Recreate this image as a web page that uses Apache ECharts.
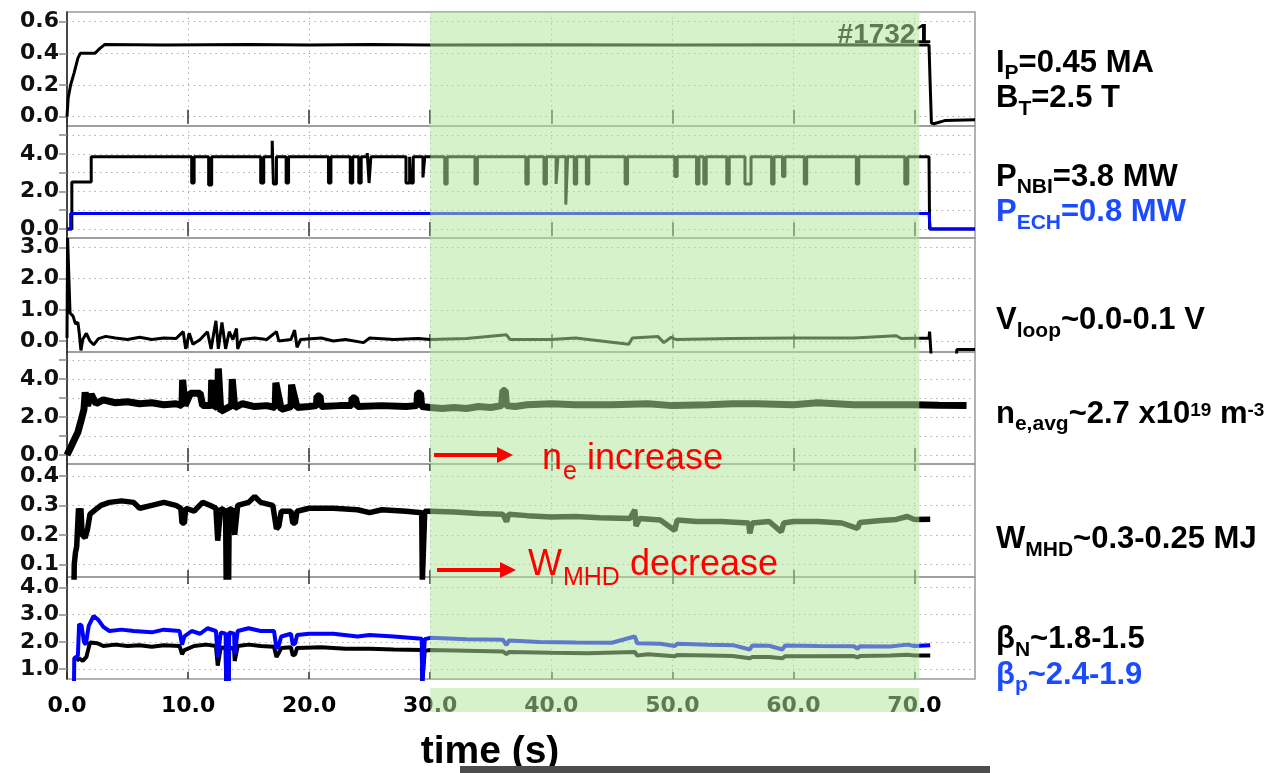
<!DOCTYPE html>
<html><head><meta charset="utf-8">
<script src="https://cdn.jsdelivr.net/npm/echarts@6/dist/echarts.min.js"></script>
<style>html,body{margin:0;padding:0;background:#fff}#c{width:1278px;height:773px}</style>
</head><body><div id="c"></div><script>
// ---------- data (time in s) ----------
const xTicks = [0,10,20,30,40,50,60,70];
const greenStart = 30, greenEnd = 70.4;
const yMins = [-0.059,-0.48,-0.35,-0.47,0.057,0.64];
const yMaxs = [0.661,5.49,3.30,5.42,0.44,4.38];
const yLabels = [[0,0.2,0.4,0.6],[0,2,4],[0,1,2,3],[0,2,4],[0.1,0.2,0.3,0.4],[1,2,3,4]];
const yGrids = [[0,0.2,0.4,0.6],[0,1,2,3,4,5],[0,1,2,3],[0,1,2,3,4,5],[0.1,0.2,0.3,0.4],[1,2,3,4]];

const ipData = [[0,0],[0.1,0.12],[0.3,0.2],[0.6,0.28],[0.9,0.37],[1.1,0.40],[2.3,0.40],[2.7,0.43],[3.1,0.455],[8,0.452],[15,0.455],[20,0.452],[25,0.455],[30,0.452],[40,0.454],[50,0.452],[60,0.454],[70,0.452],[71.2,0.452],[71.3,0.2],[71.4,-0.04],[71.6,-0.045],[72.5,-0.025],[75,-0.02]];

const pnbiData = [[0,0],[0.4,0],[0.4,2.5],[2.0,2.5],[2.0,3.85],
[10.3,3.85],[10.3,2.45],[10.5,2.45],[10.5,3.85],
[11.7,3.85],[11.7,2.35],[11.95,2.35],[11.95,3.85],
[16.0,3.85],[16.0,2.45],[16.25,2.45],[16.25,3.85],
[16.95,3.85],[16.95,4.7],[17.05,4.7],[17.05,2.4],[17.3,2.4],[17.3,3.85],
[18.1,3.85],[18.1,2.45],[18.3,2.45],[18.3,3.85],
[21.6,3.85],[21.6,2.45],[21.8,2.45],[21.8,3.85],
[23.4,3.85],[23.4,2.45],[23.6,2.45],[23.6,3.85],
[24.1,3.85],[24.1,2.45],[24.3,2.45],[24.3,3.85],
[24.8,3.85],[24.8,4.05],[24.95,4.05],[24.95,2.45],[25.1,2.45],[25.1,3.85],
[28.0,3.85],[28.0,2.45],[28.3,2.45],[28.3,3.85],[28.4,3.85],[28.4,2.45],[28.6,2.45],[28.6,3.85],
[29.4,3.85],[29.4,2.75],[29.55,2.75],[29.55,3.85],
[31.2,3.85],[31.2,2.4],[31.4,2.4],[31.4,3.85],
[33.7,3.85],[33.7,2.4],[33.9,2.4],[33.9,3.85],
[37.9,3.85],[37.9,2.4],[38.1,2.4],[38.1,3.85],
[39.4,3.85],[39.4,2.4],[39.6,2.4],[39.6,3.85],
[40.4,3.85],[40.4,2.4],[40.55,2.4],[40.55,3.85],
[41.2,3.85],[41.2,1.3],[41.35,1.3],[41.35,3.85],
[41.9,3.85],[41.9,2.4],[42.1,2.4],[42.1,3.85],
[42.9,3.85],[42.9,2.4],[43.1,2.4],[43.1,3.85],
[46.1,3.85],[46.1,2.4],[46.3,2.4],[46.3,3.85],
[50.2,3.85],[50.2,2.8],[50.4,2.8],[50.4,3.85],
[52.0,3.85],[52.0,2.4],[52.2,2.4],[52.2,3.85],
[52.6,3.85],[52.6,2.4],[52.8,2.4],[52.8,3.85],
[54.5,3.85],[54.5,2.4],[54.7,2.4],[54.7,3.85],
[56.0,3.85],[56.0,2.4],[56.5,2.4],[56.5,3.85],
[58.2,3.85],[58.2,2.4],[58.4,2.4],[58.4,3.85],
[59.1,3.85],[59.1,2.8],[59.3,2.8],[59.3,3.85],
[60.9,3.85],[60.9,2.4],[61.1,2.4],[61.1,3.85],
[65.2,3.85],[65.2,2.4],[65.4,2.4],[65.4,3.85],
[69.2,3.85],[69.2,2.4],[69.45,2.4],[69.45,3.85],
[71.2,3.85],[71.25,0],[75,0]];

const pechData = [[0,0],[0.3,0],[0.3,0.82],[20,0.83],[40,0.82],[60,0.83],[71.2,0.82],[71.3,0],[75,0]];

const vloopData = [[0,0.1],[0.05,3.3],[0.2,3.3],[0.25,0.9],[0.5,0.8],[0.7,0.55],[0.9,0.6],[1.0,0.3],[1.15,-0.3],[1.3,0.05],[1.6,0.25],[1.9,0.0],[2.2,-0.12],[2.6,0.08],[3.2,0.15],[4,0.1],[5,0.05],[6,0.12],[7,0.05],[8,0.1],[9,0.08],[9.6,0.3],[9.8,-0.25],[10.1,0.25],[10.4,-0.1],[11,0.05],[11.6,0.3],[11.9,-0.25],[12.3,0.65],[12.5,-0.25],[12.8,0.6],[13.1,-0.25],[13.4,0.3],[13.7,0.05],[14.0,0.4],[14.1,-0.25],[14.4,0.05],[15.5,0.1],[16.5,0.05],[17.3,0.3],[17.5,0.0],[18.5,0.05],[18.8,0.35],[19.0,-0.2],[19.3,0.05],[21,0.1],[22,0.0],[23,0.05],[24.5,-0.05],[25,0.1],[27,0.05],[29,0.08],[30,0.05],[33,0.08],[36.3,0.2],[36.6,0.05],[40,0.05],[42,0.1],[46.4,-0.1],[46.7,0.1],[48.8,0.15],[49.3,-0.05],[49.9,0.12],[50.3,0.05],[55,0.08],[60,0.1],[65,0.1],[68.5,0.17],[68.9,0.08],[71.2,0.1],[71.25,0.3],[71.35,0.28],[71.4,-0.6],[73.45,-0.6],[73.5,-0.27],[75,-0.27]];

const neData = [[0,0],[0.3,0.4],[0.6,0.8],[0.9,1.2],[1.2,1.9],[1.4,2.4],[1.5,3.3],[1.7,2.6],[2.0,3.2],[2.4,2.7],[3,2.9],[4,2.75],[5,2.8],[6,2.7],[7,2.75],[8,2.65],[9,2.7],[9.5,2.6],[9.55,3.95],[9.7,3.95],[9.75,2.6],[10.2,3.25],[11,3.25],[11.2,2.6],[11.9,2.6],[11.95,3.95],[12.1,3.95],[12.15,2.5],[12.45,2.6],[12.5,4.55],[12.65,4.55],[12.7,2.3],[13.6,2.6],[13.65,4.0],[13.8,4.0],[13.85,2.5],[14.5,2.7],[15.5,2.55],[16.5,2.6],[17.2,2.5],[17.25,3.8],[17.4,3.8],[17.7,2.4],[18.5,2.55],[18.55,3.7],[18.7,3.7],[19.0,2.5],[20,2.55],[20.6,2.6],[20.65,3.1],[20.9,3.1],[21,2.55],[22.5,2.6],[23.5,2.6],[23.55,3.0],[23.8,3.0],[24,2.55],[26,2.6],[28,2.55],[28.9,2.6],[28.95,3.25],[29.2,3.25],[29.3,2.55],[30,2.5],[31,2.45],[32,2.5],[33,2.45],[34,2.55],[35,2.5],[35.9,2.6],[36.0,3.4],[36.2,3.4],[36.3,2.6],[37,2.55],[38,2.65],[40,2.7],[42,2.65],[45,2.65],[48,2.7],[50,2.6],[53,2.65],[55,2.7],[57,2.7],[60,2.65],[62,2.75],[65,2.65],[68,2.65],[70,2.65],[72,2.62],[74.3,2.6]];

const wmhdData = [[0.58,0.04],[0.6,0.1],[0.7,0.14],[0.8,0.16],[0.95,0.29],[1.05,0.25],[1.15,0.29],[1.25,0.2],[1.5,0.19],[1.7,0.22],[1.9,0.27],[2.2,0.28],[2.8,0.30],[3.5,0.31],[4.5,0.315],[5.5,0.31],[6,0.29],[7,0.30],[8,0.31],[9,0.30],[9.4,0.29],[9.5,0.24],[9.7,0.24],[9.8,0.29],[10.5,0.28],[11.2,0.31],[11.8,0.30],[12.3,0.29],[12.45,0.18],[12.6,0.18],[12.7,0.29],[13.1,0.28],[13.15,0.04],[13.35,0.04],[13.4,0.29],[13.8,0.28],[13.85,0.20],[14.0,0.20],[14.1,0.30],[15,0.31],[15.5,0.33],[16,0.31],[17,0.30],[17.3,0.22],[17.5,0.23],[17.7,0.28],[18.5,0.28],[18.65,0.24],[18.85,0.24],[19,0.28],[20,0.29],[22,0.29],[24,0.285],[25,0.275],[26,0.285],[28,0.28],[29.3,0.275],[29.35,0.04],[29.5,0.04],[29.55,0.28],[30,0.28],[32,0.277],[34,0.272],[36,0.27],[36.3,0.245],[36.5,0.27],[38,0.265],[40,0.26],[42,0.262],[44,0.258],[46.5,0.255],[46.9,0.285],[47.0,0.23],[47.3,0.255],[49,0.25],[50.2,0.215],[50.4,0.25],[52,0.245],[54,0.245],[56.3,0.24],[56.4,0.205],[56.6,0.24],[58,0.245],[59.0,0.21],[59.2,0.24],[60,0.245],[62,0.245],[64,0.24],[65.3,0.222],[65.5,0.242],[67,0.248],[68.5,0.252],[69.4,0.262],[70,0.252],[71.3,0.253]];

const betaPData = [[0.58,0.5],[0.6,1.4],[0.9,1.5],[1.0,2.65],[1.2,2.6],[1.4,2.0],[1.55,1.9],[1.8,2.6],[2.2,2.95],[2.6,2.8],[3,2.55],[3.5,2.4],[4.5,2.45],[5.5,2.4],[7,2.35],[8,2.45],[9.3,2.4],[9.5,1.9],[9.7,2.2],[10.3,2.4],[11,2.3],[11.6,2.5],[12.3,2.4],[12.45,1.42],[12.6,1.42],[12.7,2.35],[13.1,2.3],[13.15,0.5],[13.35,0.5],[13.4,2.35],[13.8,2.3],[13.85,1.55],[14.0,1.55],[14.1,2.4],[15,2.5],[16,2.4],[17.1,2.4],[17.3,1.75],[17.5,1.9],[17.7,2.2],[18.5,2.3],[18.65,1.9],[18.85,1.95],[19,2.25],[20,2.3],[22,2.3],[24,2.2],[25,2.25],[27,2.2],[29.3,2.12],[29.35,0.5],[29.5,0.5],[29.55,2.1],[30,2.15],[33,2.1],[36,2.08],[36.3,1.88],[36.5,2.05],[39,2.0],[42,1.98],[45,1.97],[46.9,2.2],[47.1,1.95],[49,1.93],[50.2,1.85],[50.4,1.93],[53,1.9],[55,1.88],[56.4,1.72],[56.6,1.87],[58,1.86],[59.1,1.72],[59.3,1.87],[62,1.85],[65,1.84],[65.3,1.75],[65.5,1.84],[68,1.83],[69.4,1.9],[70,1.85],[71.3,1.88]];

const betaNData = [[0.8,1.3],[1.0,1.4],[1.3,1.3],[1.6,1.45],[1.9,1.98],[2.5,1.95],[3,1.85],[4,1.9],[5,1.85],[6,1.88],[7,1.82],[8,1.88],[9.3,1.85],[9.5,1.55],[9.7,1.7],[10.5,1.85],[11.5,1.9],[12.3,1.85],[12.45,1.13],[12.6,1.15],[12.7,1.8],[13.1,1.78],[13.15,0.5],[13.35,0.5],[13.4,1.8],[13.8,1.75],[13.85,1.3],[14.0,1.3],[14.1,1.85],[15,1.9],[16,1.85],[17.1,1.82],[17.3,1.45],[17.5,1.6],[17.7,1.78],[18.5,1.8],[18.65,1.5],[18.85,1.55],[19,1.78],[21,1.8],[23,1.75],[25,1.75],[27,1.72],[29.3,1.7],[29.35,0.5],[29.5,0.5],[29.55,1.68],[30,1.7],[33,1.68],[36,1.65],[36.3,1.55],[36.5,1.63],[40,1.6],[43,1.58],[46.9,1.63],[47.1,1.5],[48,1.55],[50.2,1.47],[50.4,1.52],[53,1.5],[55,1.48],[56.4,1.4],[56.6,1.45],[58,1.45],[59.1,1.4],[59.3,1.47],[62,1.47],[65,1.48],[65.3,1.43],[65.5,1.48],[68,1.5],[69.4,1.53],[70,1.5],[71.3,1.5]];

// ---------- layout ----------
const tops = [12,126,238,352,464,577];
const heights = [114,112,114,112,113,111];
const LEFT = 67, RIGHT = 303;
const labelFont = {fontFamily:'DejaVu Sans', fontWeight:'bold', fontSize:22, color:'#111'};
const dotted = {color:'#b0b0b0', width:1, type:[1.5,4]};
const OVERLAY = 'rgba(177,230,155,0.53)';

const grid = [], xAxis = [], yAxis = [], series = [];
for (let i = 0; i < 6; i++) {
  grid.push({left: LEFT, right: RIGHT, top: tops[i], height: heights[i], show: true,
    borderColor: '#999', borderWidth: 1.5, backgroundColor: 'transparent'});
  const last = i === 5;
  xAxis.push({gridIndex: i, type: 'value', min: 0, max: 75, position: 'bottom',
    axisLine: {show: false},
    axisTick: {show: true, inside: true, length: 7, customValues: xTicks, lineStyle: {color:'#333', width:1.5}},
    axisLabel: {show: last, customValues: xTicks, margin: 16, formatter: v => v.toFixed(1), ...labelFont, color:'#000'},
    splitLine: {show: true, lineStyle: dotted},
    name: last ? 'time (s)' : '', nameLocation: 'middle', nameGap: 54,
    nameTextStyle: {fontFamily:'Liberation Sans', fontWeight:'bold', fontSize:39, color:'#000', padding:[0,62,0,0]}
  });
  xAxis.push({gridIndex: i, type: 'value', min: 0, max: 75, position: 'top',
    axisLine: {show: false},
    axisTick: {show: true, inside: true, length: 7, customValues: xTicks, lineStyle: {color:'#333', width:1.5}},
    axisLabel: {show: false}, splitLine: {show: false}});
  yAxis.push({gridIndex: i, type: 'value', min: yMins[i], max: yMaxs[i], position: 'left',
    axisLine: {show: true, lineStyle: {color:'#222', width:1.5}},
    axisTick: {show: false, customValues: yGrids[i]},
    axisLabel: {customValues: yLabels[i], margin: 8, formatter: v => v.toFixed(1), ...labelFont},
    splitLine: {show: true, lineStyle: dotted}});
  yAxis.push({gridIndex: i, type: 'value', min: yMins[i], max: yMaxs[i], position: 'right',
    axisLine: {show: false},
    axisTick: {show: true, inside: true, length: 8, customValues: yGrids[i], lineStyle: {color:'#888', width:1.5}},
    axisLabel: {show: false}, splitLine: {show: false}});
}
// strip below the last panel (shading over the tick labels)
grid.push({left: LEFT, right: RIGHT, top: 688, height: 24, show: false});
xAxis.push({gridIndex: 6, type: 'value', min: 0, max: 75, show: false});
yAxis.push({gridIndex: 6, type: 'value', min: 0, max: 1, show: false});

function line(name, data, p, color, width, z) {
  return {name, type: 'line', data, xAxisIndex: 2*p, yAxisIndex: 2*p, symbol: 'none',
    lineStyle: {color, width}, z: z || 2, animation: false};
}
series.push(line('Ip', ipData, 0, '#000', 3));
series.push(line('P_NBI', pnbiData, 1, '#000', 3));
series.push(line('P_ECH', pechData, 1, '#0000ff', 3, 3));
series.push(line('Vloop', vloopData, 2, '#000', 3));
series.push(line('ne', neData, 3, '#000', 7));
series.push(line('WMHD', wmhdData, 4, '#000', 5.5));
series.push(line('betaN', betaNData, 5, '#000', 4));
series.push(line('betaP', betaPData, 5, '#0000ff', 4, 3));
for (let i = 0; i < 7; i++) {
  series.push({type: 'line', data: [], xAxisIndex: i < 6 ? 2*i : 12, yAxisIndex: i < 6 ? 2*i : 12,
    z: 20, silent: true, animation: false,
    markArea: {z: 20, silent: true, itemStyle: {color: OVERLAY}, data: [[{xAxis: greenStart}, {xAxis: greenEnd}]]}});
}

// ---------- texts ----------
const F = 'Liberation Sans';
const R = {
  m: {fontFamily:F, fontWeight:'bold', fontSize:31, lineHeight:32, verticalAlign:'top', fill:'#000'},
  s: {fontFamily:F, fontWeight:'bold', fontSize:21, lineHeight:21, padding:[15,0,0,0], verticalAlign:'top', fill:'#000'},
  u: {fontFamily:F, fontWeight:'bold', fontSize:19, lineHeight:19, padding:[3,0,0,0], verticalAlign:'top', fill:'#000'},
  b: {fontFamily:F, fontWeight:'bold', fontSize:31, lineHeight:32, verticalAlign:'top', fill:'#1a4bff'},
  bs: {fontFamily:F, fontWeight:'bold', fontSize:21, lineHeight:21, padding:[15,0,0,0], verticalAlign:'top', fill:'#1a4bff'},
  r: {fontFamily:F, fontSize:36, lineHeight:38, verticalAlign:'top', fill:'#ff0000'},
  rs: {fontFamily:F, fontSize:25, lineHeight:25, padding:[19,0,0,1], verticalAlign:'top', fill:'#ff0000'}
};
const rightLabels = [
  ['{m|I}{s|P}{m|=0.45 MA}', 71.7],
  ['{m|B}{s|T}{m|=2.5 T}', 107.3],
  ['{m|P}{s|NBI}{m|=3.8 MW}', 185.7],
  ['{b|P}{bs|ECH}{b|=0.8 MW}', 221.3],
  ['{m|V}{s|loop}{m|~0.0-0.1 V}', 329.3],
  ['{m|n}{s|e,avg}{m|~2.7 x10}{u|19}{m| m}{u|-3}', 422.7],
  ['{m|W}{s|MHD}{m|~0.3-0.25 MJ}', 548.3],
  ['{m|β}{s|N}{m|~1.8-1.5}', 648.3],
  ['{b|β}{bs|p}{b|~2.4-1.9}', 684]
];
const graphic = [
  {type:'rect', shape:{x:460, y:766, width:530, height:7}, style:{fill:'#4d4d4d'}, z:1},
  {type:'text', x:931, y:35, z:1, style:{text:'#17321', font:'bold 28px "Liberation Sans"', fill:'#000', align:'right', verticalAlign:'middle'}}
];
rightLabels.forEach(([t, base]) => graphic.push({type:'text', x:996, y: base - 24, z:100,
  style:{text:t, rich:R, align:'left', verticalAlign:'top'}}));
// arrows + annotation
graphic.push({type:'line', z:100, shape:{x1:434, y1:455, x2:500, y2:455}, style:{stroke:'#ff0000', lineWidth:4}});
graphic.push({type:'polygon', z:100, shape:{points:[[497,447],[513,455],[497,463]]}, style:{fill:'#ff0000'}});
graphic.push({type:'text', x:542, y:471-30, z:100, style:{text:'{r|n}{rs|e}{r| increase}', rich:R, verticalAlign:'top'}});
graphic.push({type:'line', z:100, shape:{x1:437, y1:570, x2:503, y2:570}, style:{stroke:'#ff0000', lineWidth:4}});
graphic.push({type:'polygon', z:100, shape:{points:[[500,562],[516,570],[500,578]]}, style:{fill:'#ff0000'}});
graphic.push({type:'text', x:528, y:577-30, z:100, style:{text:'{r|W}{rs|MHD}{r| decrease}', rich:R, verticalAlign:'top'}});

const chart = echarts.init(document.getElementById('c'), null, {renderer:'canvas'});
chart.setOption({animation:false, backgroundColor:'#fff', grid, xAxis, yAxis, series, graphic});
</script></body></html>
